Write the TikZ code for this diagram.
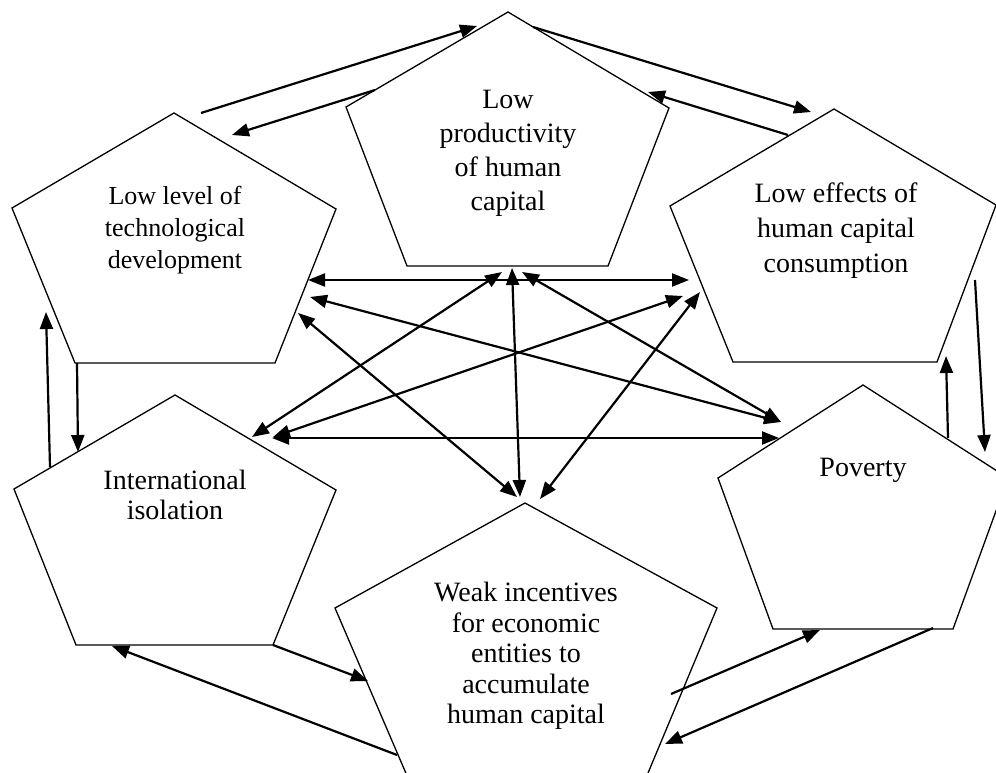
\documentclass[tikz,border=0pt]{standalone}
\usepackage{fontspec}
\setmainfont{Liberation Serif}
\usetikzlibrary{arrows.meta}
\begin{document}
\begin{tikzpicture}[x=1pt,y=-1pt,
  pent/.style={draw=black,line width=1.3pt,line join=miter},
  label/.style={align=center,inner sep=0pt,font=\fontsize{28}{33}\selectfont},
  link/.style={line width=2.2pt,-{Triangle[length=17pt,width=13pt]}},
  twoway/.style={line width=2.2pt,{Triangle[length=17pt,width=13pt]}-{Triangle[length=17pt,width=13pt]}}]
\useasboundingbox (0,0) rectangle (996,773);
\clip (0,0) rectangle (996,773);

% pentagon outlines
\draw[pent] (174,113) -- (336,209) -- (275,363) -- (75,363) -- (12,208) -- cycle;
\draw[pent] (508,12) -- (669,108) -- (608,266) -- (407,266) -- (346,107) -- cycle;
\draw[pent] (834,109) -- (996,205) -- (937,362) -- (733,362) -- (670,206) -- cycle;
\draw[pent] (175,395) -- (336,490) -- (273,645) -- (76,645) -- (14,489) -- cycle;
\draw[pent] (525,503) -- (717,608) -- (643,785) -- (411,785) -- (335,608) -- cycle;
\draw[pent] (863,385) -- (1008,478) -- (953,629) -- (773,629) -- (718,478) -- cycle;

% texts
\node[label,font=\fontsize{26}{32}\selectfont] (tech) at (175,230) {Low level of\\technological\\development};
\node[label,font=\fontsize{28}{34}\selectfont] (prod) at (508,153) {Low\\productivity\\of human\\capital};
\node[label,font=\fontsize{28}{35}\selectfont] (cons) at (836,231) {Low effects of\\human capital\\consumption};
\node[label,font=\fontsize{28}{30}\selectfont] (isol) at (175,495) {International\\isolation};
\node[label,font=\fontsize{28}{30.5}\selectfont] (weak) at (526,656) {Weak incentives\\for economic\\entities to\\accumulate\\human capital};
\node[label] (pov) at (863,470) {Poverty};

% connector end points
\coordinate (a1) at (201,113);  \coordinate (b1) at (477,26);
\coordinate (b2) at (375,90);   \coordinate (a2) at (232,135);
\coordinate (b3) at (533,27);   \coordinate (c3) at (811,112);
\coordinate (c4) at (788,135);  \coordinate (b4) at (648,92);
\coordinate (c5) at (975,280);  \coordinate (f5) at (985,452);
\coordinate (f6) at (948,438);  \coordinate (c6) at (946,356);
\coordinate (f7) at (933,628);  \coordinate (e7) at (665,744);
\coordinate (e8) at (671,694);  \coordinate (f8) at (820,630);
\coordinate (e9) at (397,755);  \coordinate (d9) at (112,646);
\coordinate (d10) at (273,645); \coordinate (e10) at (368,681);
\coordinate (d11) at (50,467);  \coordinate (a11) at (46,312);
\coordinate (a12) at (77,363);  \coordinate (d12) at (78,452);
\coordinate (ac-a) at (308,280); \coordinate (ac-c) at (689,280);
\coordinate (df-d) at (272,438); \coordinate (df-f) at (779,438);
\coordinate (cd-c) at (683,296); \coordinate (cd-d) at (273,437);
\coordinate (af-a) at (310,297); \coordinate (af-f) at (781,422);
\coordinate (ae-a) at (298,313); \coordinate (ae-e) at (517,497);
\coordinate (bd-b) at (502,272); \coordinate (bd-d) at (252,437);
\coordinate (be-b) at (512,268); \coordinate (be-e) at (520,497);
\coordinate (bf-b) at (522,272); \coordinate (bf-f) at (781,422);
\coordinate (ce-c) at (700,292); \coordinate (ce-e) at (540,499);

% one-way links around the ring
\draw[link] (a1) -- (b1);
\draw[link] (b2) -- (a2);
\draw[link] (b3) -- (c3);
\draw[link] (c4) -- (b4);
\draw[link] (c5) -- (f5);
\draw[link] (f6) -- (c6);
\draw[link] (f7) -- (e7);
\draw[link] (e8) -- (f8);
\draw[link] (e9) -- (d9);
\draw[link] (d10) -- (e10);
\draw[link] (d11) -- (a11);
\draw[link] (a12) -- (d12);

% two-way links across the middle
\draw[twoway] (ac-a) -- (ac-c);
\draw[twoway] (df-d) -- (df-f);
\draw[twoway] (cd-c) -- (cd-d);
\draw[twoway] (af-a) -- (af-f);
\draw[twoway] (ae-a) -- (ae-e);
\draw[twoway] (bd-b) -- (bd-d);
\draw[twoway] (be-b) -- (be-e);
\draw[twoway] (bf-b) -- (bf-f);
\draw[twoway] (ce-c) -- (ce-e);
\end{tikzpicture}
\end{document}
